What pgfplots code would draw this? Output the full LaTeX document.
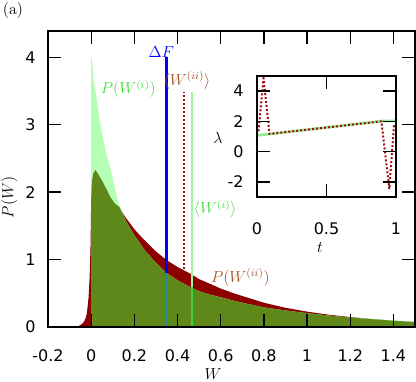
\documentclass[border=0pt]{standalone}
\usepackage{fontspec}
\usepackage{pgfplots}
\pgfplotsset{compat=1.18}
\newfontfamily\tickfont{DejaVu Sans}
\newcommand\tlf{\tickfont\fontsize{12}{14}\selectfont}
\newcommand\lbf{\fontsize{12}{14}\selectfont}

\definecolor{histred}{RGB}{140,0,0}
\definecolor{histgreen}{RGB}{180,255,180}
\definecolor{histolive}{RGB}{94,137,26}
\definecolor{tealline}{RGB}{35,140,150}
\definecolor{dotred}{RGB}{160,15,15}
\definecolor{palegreen}{RGB}{165,245,165}
\definecolor{brightgreen}{RGB}{60,215,60}
\definecolor{labelgreen}{RGB}{60,225,60}
\definecolor{labelbrown}{RGB}{165,82,45}
\definecolor{insetgreen}{RGB}{150,235,150}

\pgfplotsset{
  frame/.style={
    scale only axis, axis on top,
    axis line style={line width=1.3pt},
    every tick/.style={black, line width=1pt},
    major tick length=10pt, tick align=inside,
    ticklabel style={font=\tlf},
  },
}

\begin{document}
\begin{tikzpicture}
\useasboundingbox (0pt,0pt) rectangle (312pt,-285.75pt);
\node at (9.75pt,-8.25pt) {\lbf (a)};

% main histograms
\begin{axis}[frame,
  at={(36pt,-23.25pt)}, anchor=north west,
  width=275.25pt, height=222pt,
  xmin=-0.2, xmax=1.5, ymin=0, ymax=4.39,
  xtick={-0.2,0,0.2,0.4,0.6,0.8,1,1.2,1.4},
  xticklabels={-0.2,0,0.2,0.4,0.6,0.8,1,1.2,1.4},
  ytick={0,1,2,3,4}, yticklabels={0,1,2,3,4},
  xticklabel style={yshift=-13.25pt},
  yticklabel style={xshift=-5.75pt},
]
% P(W^(ii))
\addplot[fill=histred, draw=none] coordinates {
  (-0.075,0) (-0.06,0.01) (-0.045,0.04) (-0.035,0.07) (-0.028,0.11)
  (-0.02,0.2) (-0.012,0.44) (-0.007,0.75) (-0.003,1.2) (0,1.9)
  (0.003,2.15) (0.01,2.28) (0.02,2.33) (0.03,2.28) (0.045,2.2)
  (0.057,2.13) (0.075,2.02) (0.088,1.93) (0.11,1.83) (0.134,1.75)
  (0.165,1.6) (0.2,1.45) (0.243,1.3) (0.3,1.12) (0.35,0.99)
  (0.4,0.89) (0.46,0.79) (0.5,0.71) (0.55,0.64) (0.6,0.57)
  (0.66,0.5) (0.7,0.46) (0.8,0.36) (0.9,0.285) (1.0,0.228)
  (1.1,0.183) (1.2,0.147) (1.3,0.117) (1.4,0.093) (1.5,0.073)
} \closedcycle;
% P(W^(i))
\addplot[fill=histgreen, draw=none] coordinates {
  (0,4.0) (0.003,4.0) (0.01,3.7) (0.026,3.37) (0.04,3.05)
  (0.057,2.77) (0.07,2.57) (0.088,2.37) (0.1,2.2) (0.119,1.93)
  (0.131,1.8) (0.16,1.58) (0.2,1.36) (0.25,1.13) (0.3,0.95)
  (0.35,0.8) (0.4,0.69) (0.46,0.59) (0.5,0.53) (0.55,0.48)
  (0.6,0.44) (0.66,0.39) (0.7,0.36) (0.8,0.29) (0.9,0.245)
  (1.0,0.205) (1.1,0.17) (1.2,0.14) (1.3,0.12) (1.4,0.1) (1.5,0.08)
} \closedcycle;
% overlap of the two
\addplot[fill=histolive, draw=none] coordinates {
  (0,1.9) (0.003,2.15) (0.01,2.28) (0.02,2.33) (0.03,2.28)
  (0.045,2.2) (0.057,2.13) (0.075,2.02) (0.088,1.93) (0.11,1.83)
  (0.131,1.78) (0.16,1.58) (0.2,1.36) (0.25,1.13) (0.3,0.95)
  (0.35,0.8) (0.4,0.69) (0.46,0.59) (0.5,0.53) (0.55,0.48)
  (0.6,0.44) (0.66,0.39) (0.7,0.36) (0.8,0.29) (0.9,0.245)
  (1.0,0.205) (1.1,0.17) (1.2,0.14) (1.3,0.117) (1.4,0.093) (1.5,0.073)
} \closedcycle;
% markers
\addplot[blue, line width=2.3pt] coordinates {(0.348,0.8) (0.348,4.0)};
\addplot[tealline, line width=2.3pt] coordinates {(0.348,0) (0.348,0.8)};
\addplot[dotred, line width=1.5pt, dash pattern=on 1.5pt off 1.5pt] coordinates {(0.428,0.86) (0.428,3.49)};
\addplot[palegreen, line width=1.6pt] coordinates {(0.468,0.6) (0.468,3.49)};
\addplot[brightgreen, line width=1.6pt] coordinates {(0.468,0) (0.468,0.6)};

\node[blue] at (axis cs:0.325,4.08) {\lbf $\Delta F$};
\node[labelbrown] at (axis cs:0.444,3.65) {\lbf $\langle W^{(ii)}\rangle$};
\node[labelgreen] at (axis cs:0.172,3.53) {\lbf $P(W^{(i)})$};
\node[labelgreen] at (axis cs:0.575,1.75) {\lbf $\langle W^{(i)}\rangle$};
\node[labelbrown] at (axis cs:0.691,0.735) {\lbf $P(W^{(ii)})$};
\end{axis}
\node at (159.75pt,-280.5pt) {\lbf $W$};
\node[rotate=90] at (7pt,-148pt) {\lbf $P(W)$};

% inset: protocol lambda(t)
\begin{axis}[frame,
  at={(192.75pt,-57pt)}, anchor=north west,
  width=104.25pt, height=90.75pt,
  xmin=0, xmax=1, ymin=-3, ymax=5,
  axis background/.style={fill=white},
  xtick={0,0.5,1}, xticklabels={0,0.5,1},
  ytick={-2,0,2,4}, yticklabels={-2,0,2,4},
  xticklabel style={yshift=-15.7pt},
  yticklabel style={xshift=-6.5pt},
]
\addplot[insetgreen, line width=2pt] coordinates {(0,1.07) (0.897,2.02) (1,2.02)};
\addplot[dotred, line width=1.5pt, dash pattern=on 1.5pt off 1.5pt] coordinates {
  (0.011,1.35) (0.047,4.85) (0.09,1.17) (0.895,2.0) (0.952,-2.48) (0.986,1.8)};
\end{axis}
\node at (163.5pt,-103.5pt) {\lbf $\lambda$};
\node at (240pt,-186pt) {\lbf $t$};
\end{tikzpicture}
\end{document}
